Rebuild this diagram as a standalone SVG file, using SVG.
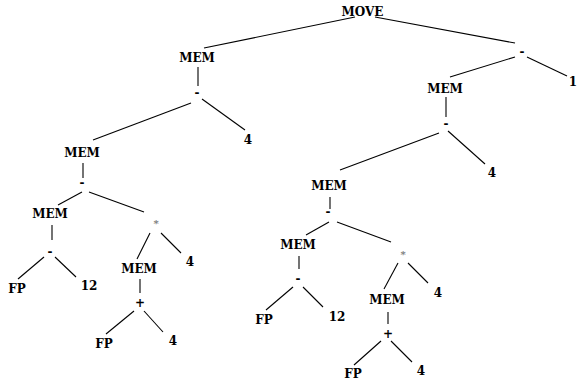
<svg xmlns="http://www.w3.org/2000/svg" width="577" height="385" viewBox="0 0 577 385">
<style>
text{font-family:"DejaVu Serif","Liberation Serif",serif;font-weight:bold;font-size:12px;text-anchor:middle;fill:#000}
.star{fill:#777;font-size:10px}
line{stroke:#000;stroke-width:1.1}
</style>
<rect width="577" height="385" fill="#fff"/>
<g id="edges">
<line x1="355" y1="17" x2="204" y2="48"/>
<line x1="375" y1="17" x2="515" y2="43"/>
<line x1="515" y1="57" x2="450" y2="77"/>
<line x1="527" y1="57" x2="567" y2="76"/>
<line x1="446" y1="97" x2="446" y2="117"/>
<line x1="439" y1="133" x2="340" y2="170"/>
<line x1="448" y1="131" x2="485" y2="164"/>
<line x1="198" y1="67" x2="198" y2="86"/>
<line x1="191" y1="103" x2="93" y2="140"/>
<line x1="202" y1="99" x2="245" y2="130"/>
<line x1="83" y1="163" x2="83" y2="178"/>
<line x1="82" y1="192" x2="58" y2="205"/>
<line x1="89" y1="192" x2="144" y2="212"/>
<line x1="52" y1="225" x2="52" y2="240"/>
<line x1="44" y1="257" x2="18" y2="279"/>
<line x1="55" y1="257" x2="76" y2="277"/>
<line x1="150" y1="233" x2="137" y2="259"/>
<line x1="161" y1="233" x2="181" y2="253"/>
<line x1="140" y1="279" x2="140" y2="293"/>
<line x1="134" y1="311" x2="106" y2="334"/>
<line x1="144" y1="311" x2="163" y2="332"/>
<line x1="330" y1="197" x2="330" y2="209"/>
<line x1="329" y1="222" x2="306" y2="235"/>
<line x1="337" y1="222" x2="391" y2="242"/>
<line x1="299" y1="256" x2="299" y2="269"/>
<line x1="293" y1="287" x2="266" y2="310"/>
<line x1="303" y1="287" x2="323" y2="307"/>
<line x1="398" y1="263" x2="384" y2="289"/>
<line x1="408" y1="263" x2="428" y2="283"/>
<line x1="388" y1="312" x2="388" y2="324"/>
<line x1="381" y1="341" x2="354" y2="365"/>
<line x1="391" y1="341" x2="412" y2="362"/>
</g>
<g id="n_move"><text x="362.5" y="15.5">MOVE</text></g>
<g id="n_mem1"><text x="197" y="62">MEM</text></g>
<g id="n_minus1"><text x="197" y="97">-</text></g>
<g id="n_4a"><text x="248" y="144">4</text></g>
<g id="n_mem2"><text x="82" y="157">MEM</text></g>
<g id="n_minus2"><text x="82" y="187">-</text></g>
<g id="n_mem3"><text x="50" y="218">MEM</text></g>
<g id="n_minus3"><text x="50" y="256">-</text></g>
<g id="n_fp1"><text x="17" y="293">FP</text></g>
<g id="n_12a"><text x="89" y="290">12</text></g>
<g id="n_star1"><text class="star" x="156" y="227">*</text></g>
<g id="n_4b"><text x="190" y="266">4</text></g>
<g id="n_mem4"><text x="139" y="273">MEM</text></g>
<g id="n_plus1"><text x="140" y="307">+</text></g>
<g id="n_fp2"><text x="104" y="348">FP</text></g>
<g id="n_4c"><text x="173" y="345">4</text></g>
<g id="n_minusR"><text x="522" y="56">-</text></g>
<g id="n_1"><text x="573" y="86">1</text></g>
<g id="n_mem5"><text x="445" y="93">MEM</text></g>
<g id="n_minus5"><text x="446" y="128">-</text></g>
<g id="n_4d"><text x="492" y="177">4</text></g>
<g id="n_mem6"><text x="329" y="190">MEM</text></g>
<g id="n_minus6"><text x="328" y="216">-</text></g>
<g id="n_mem7"><text x="298" y="249">MEM</text></g>
<g id="n_minus7"><text x="298" y="283">-</text></g>
<g id="n_fp3"><text x="264" y="324">FP</text></g>
<g id="n_12b"><text x="337" y="321">12</text></g>
<g id="n_star2"><text class="star" x="403" y="258">*</text></g>
<g id="n_4e"><text x="438" y="297">4</text></g>
<g id="n_mem8"><text x="387" y="304">MEM</text></g>
<g id="n_plus2"><text x="388" y="338">+</text></g>
<g id="n_fp4"><text x="353" y="378">FP</text></g>
<g id="n_4f"><text x="421" y="375">4</text></g>
</svg>
